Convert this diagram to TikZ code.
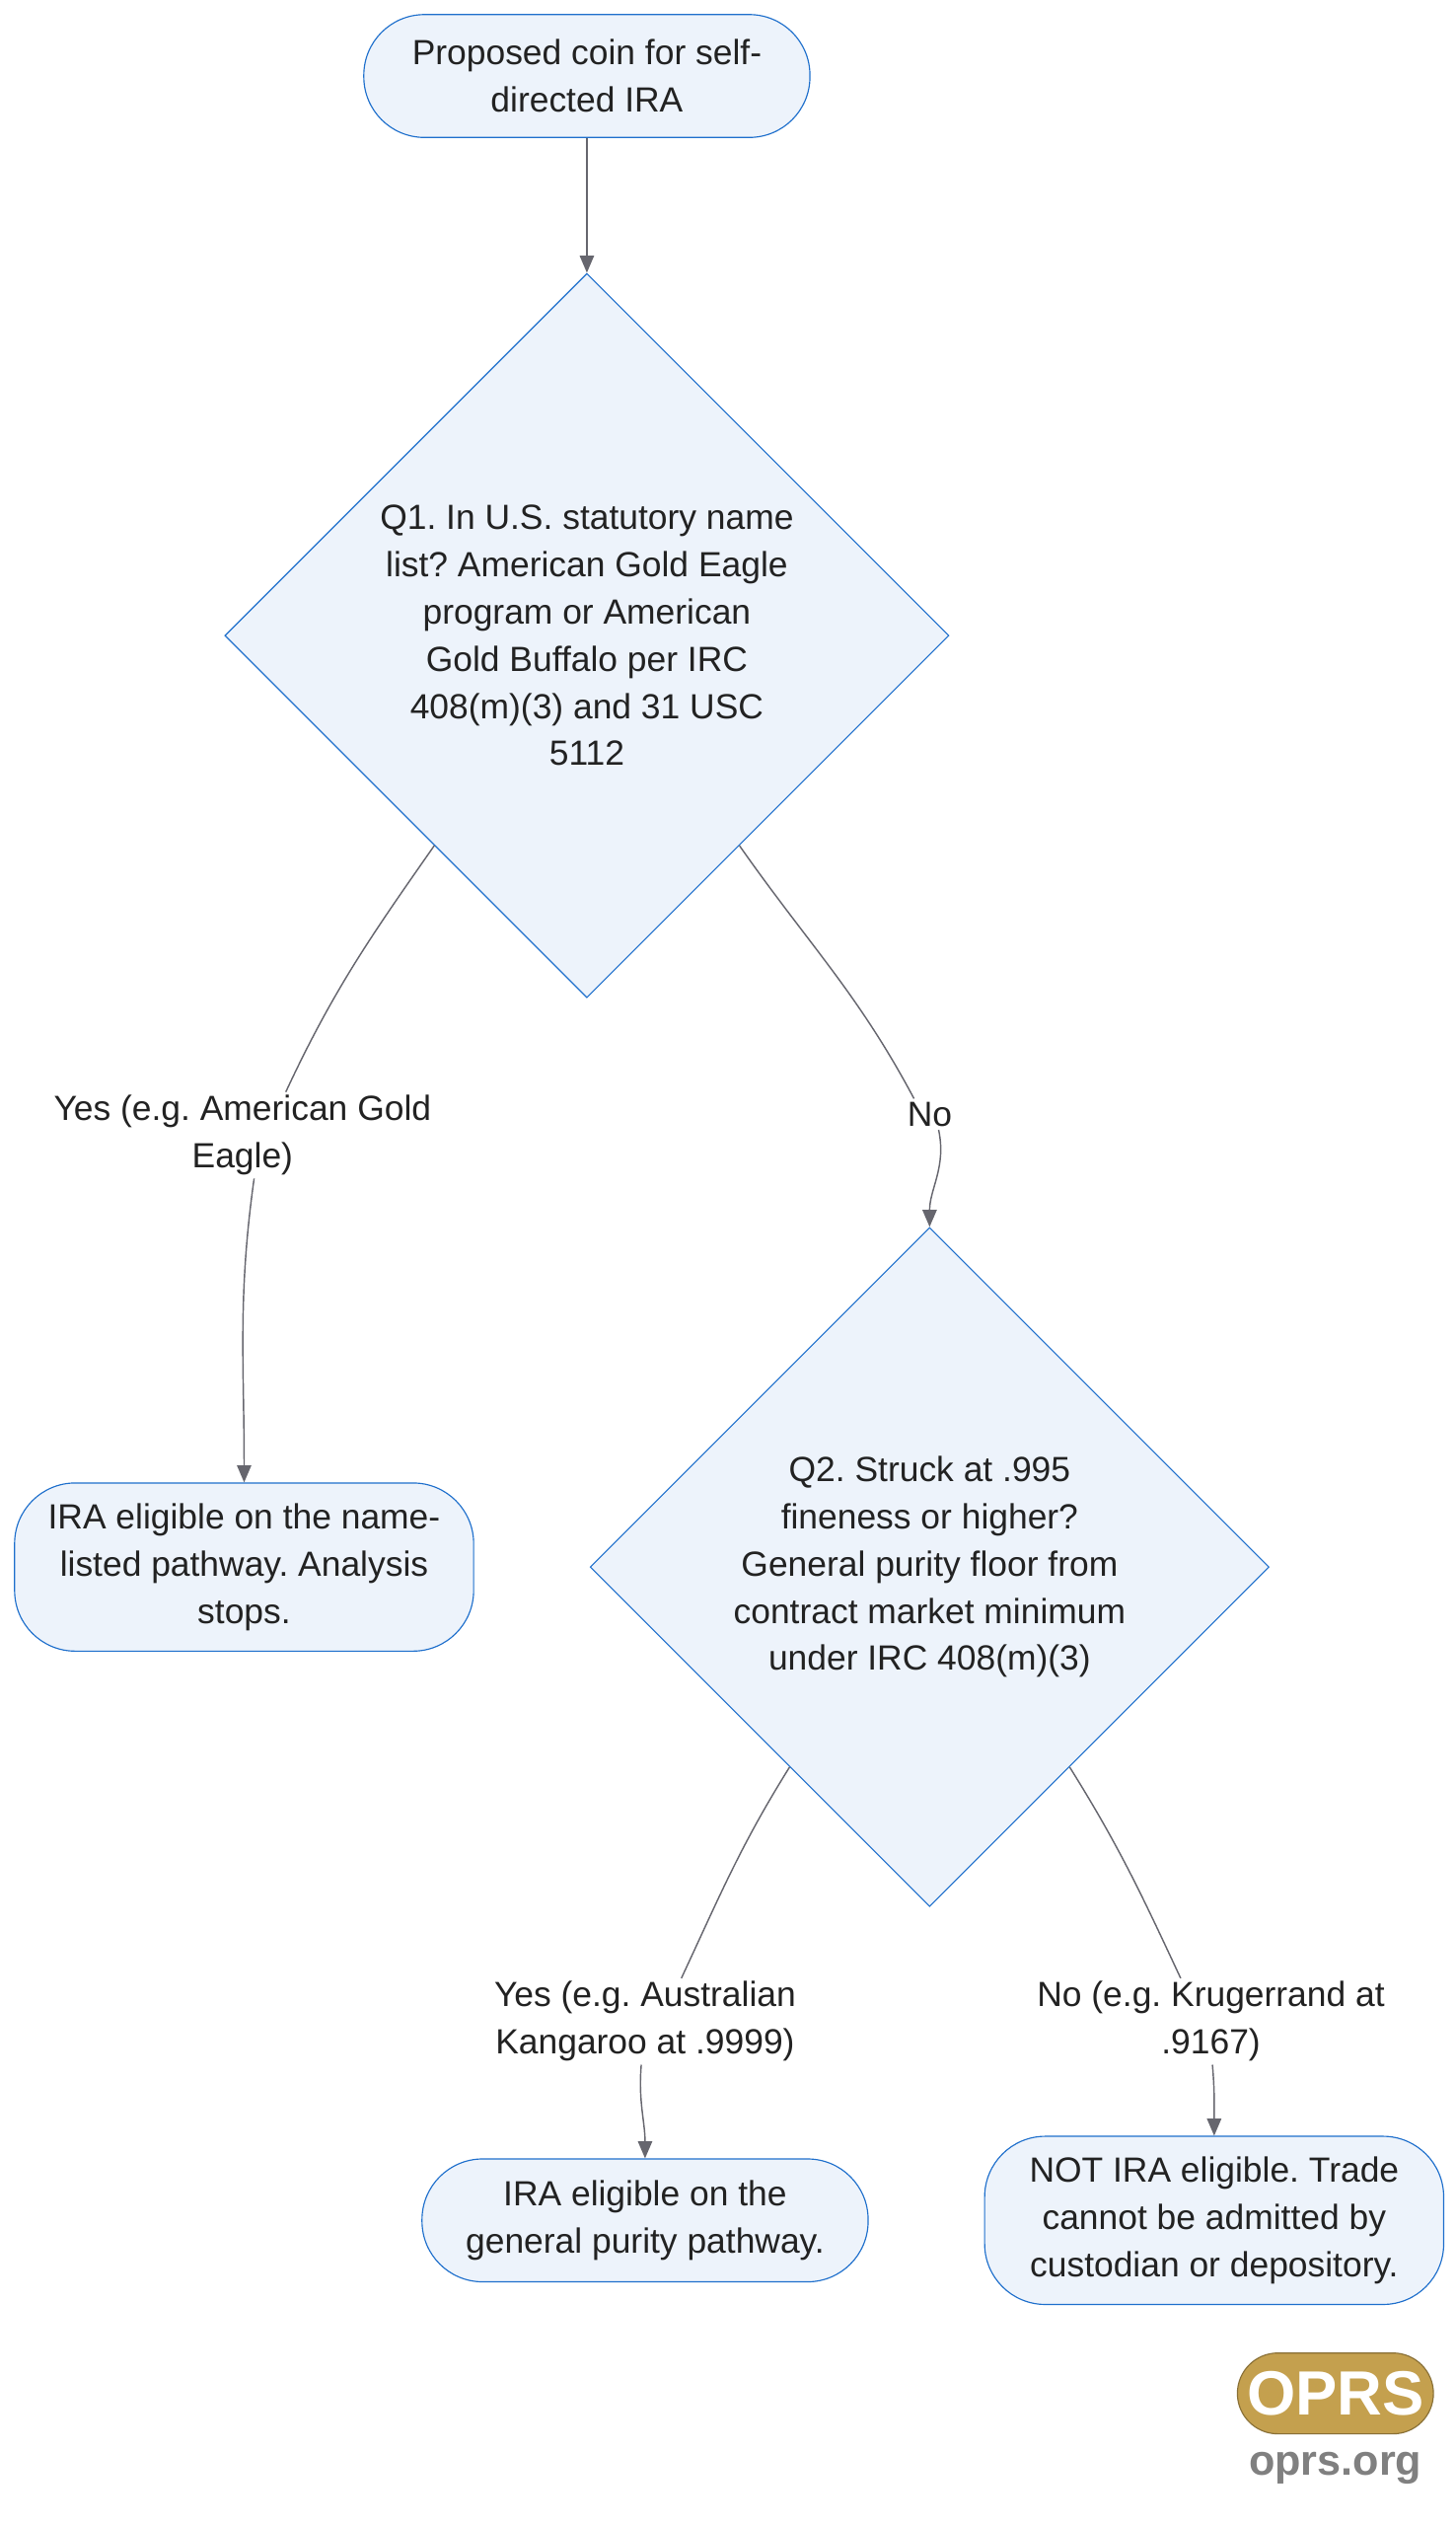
\documentclass[tikz,border=0pt]{standalone}
\usepackage{fontspec}
\setmainfont{Liberation Sans}
\usetikzlibrary{shapes.geometric,arrows.meta,positioning,calc}
\definecolor{boxblue}{RGB}{30,111,204}
\definecolor{boxfill}{RGB}{237,243,251}
\definecolor{edgegray}{RGB}{102,102,110}
\definecolor{inkgray}{RGB}{34,34,34}
\definecolor{coingold}{RGB}{196,160,78}

\begin{document}
\frenchspacing
\begin{tikzpicture}[x=0.02cm, y=-0.02cm,
    font=\fontsize{12.3}{16.6}\selectfont, text=inkgray,
    term/.style={rectangle, rounded corners=0.75cm, draw=boxblue, fill=boxfill, align=center, inner sep=0pt},
    decide/.style={diamond, aspect=1, draw=boxblue, fill=boxfill, align=center, inner sep=0pt},
    lbl/.style={align=center, fill=white, inner sep=1pt},
    edge/.style={draw=edgegray, line width=0.5pt},
    arrow/.style={edge, -{Triangle[length=6pt,width=5pt]}}]

    \useasboundingbox (0,0) rectangle (900,1562);

    \node[term, minimum width=5.52cm, minimum height=1.52cm] (start) at (363,47) {Proposed coin for self-\\directed IRA};
    \node[decide, minimum width=8.96cm, minimum height=8.96cm] (q1) at (363,393) {Q1. In U.S. statutory name\\list? American Gold Eagle\\program or American\\Gold Buffalo per IRC\\408(m)(3) and 31 USC\\5112};
    \node[lbl] (yes1) at (150,702) {Yes (e.g. American Gold\\Eagle)};
    \node[term, minimum width=5.68cm, minimum height=2.08cm] (named) at (151,969) {IRA eligible on the name-\\listed pathway. Analysis\\stops.};
    \node[lbl] (no1) at (575,689) {No};
    \node[decide, minimum width=8.4cm, minimum height=8.4cm] (q2) at (575,969) {Q2. Struck at .995\\fineness or higher?\\General purity floor from\\contract market minimum\\under IRC 408(m)(3)};
    \node[lbl] (yes2) at (399,1250) {Yes (e.g. Australian\\Kangaroo at .9999)};
    \node[term, minimum width=5.52cm, minimum height=1.52cm] (purity) at (399,1373) {IRA eligible on the\\general purity pathway.};
    \node[lbl] (no2) at (749,1250) {No (e.g. Krugerrand at\\.9167)};
    \node[term, minimum width=5.68cm, minimum height=2.08cm] (reject) at (751,1373) {NOT IRA eligible. Trade\\cannot be admitted by\\custodian or depository.};

    % logo
    \node[rounded corners=0.5cm, fill=coingold, draw=coingold!70!black, minimum width=1.8cm, minimum height=1.0cm, font=\bfseries\fontsize{22}{22}\selectfont, text=white] (logo) at (826,1480) {OPRS};
    \node[below=0.1cm of logo, font=\bfseries\fontsize{15}{15}\selectfont, text=gray] (site) {oprs.org};

    \draw[arrow] (start) -- (q1);
    \draw[edge] (q1.234) to[out=235,in=65] (yes1.45);
    \draw[arrow] (yes1.-75) to[out=-98,in=90] (named.north);
    \draw[edge] (q1.306) to[out=-55,in=118] (no1.135);
    \draw[arrow] (no1.-60) to[out=-78,in=90] (q2.north);
    \draw[edge] (q2.235) to[out=238,in=65] (yes2.50);
    \draw[arrow] (yes2.-95) to[out=-95,in=90] (purity.north);
    \draw[edge] (q2.305) to[out=-58,in=115] (no2.125);
    \draw[arrow] (no2.-88) to[out=-85,in=90] (reject.north);
\end{tikzpicture}
\end{document}
